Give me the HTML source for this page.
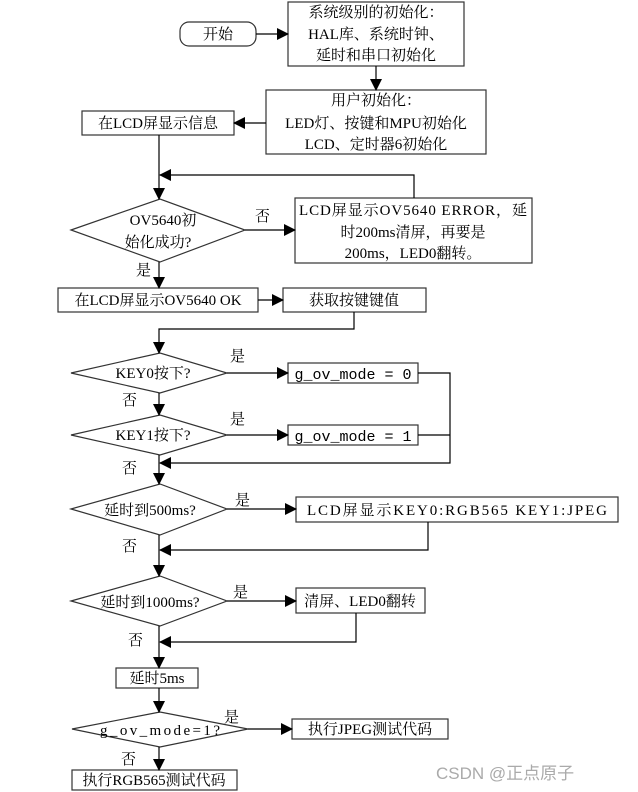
<!DOCTYPE html>
<html><head><meta charset="utf-8"><style>
html,body{margin:0;padding:0;background:#fff;}
svg{display:block;}
text{font-family:"Liberation Serif","Noto Serif CJK SC","Noto Sans CJK SC",serif;font-size:15px;fill:#000;}
.m{font-family:"Liberation Mono","Noto Sans CJK SC",monospace;}
</style></head><body>
<svg width="638" height="792" viewBox="0 0 638 792" xmlns="http://www.w3.org/2000/svg">
<defs><marker id="a" markerWidth="12" markerHeight="12" refX="11" refY="6" orient="auto" markerUnits="userSpaceOnUse"><path d="M0,0 L12,6 L0,12 z" fill="#000"/></marker></defs>
<g fill="#fff" stroke="#333" stroke-width="1.2">
<rect x="180" y="22" width="76" height="24" rx="9"/>
<rect x="288" y="2" width="176" height="64"/>
<rect x="266" y="90" width="220" height="64"/>
<rect x="82" y="111" width="152" height="24"/>
<polygon points="71,230 160,199 245,230 160,262"/>
<rect x="295" y="198" width="237" height="65"/>
<rect x="58" y="288" width="200" height="24"/>
<rect x="283" y="288" width="143" height="24"/>
<polygon points="71,373 160,353 227,373 160,393"/>
<rect x="288" y="363" width="130" height="20"/>
<polygon points="71,435 160,415 227,435 160,455"/>
<rect x="288" y="425" width="130" height="20"/>
<polygon points="71,509 160,484 227,509 160,535"/>
<rect x="296" y="497" width="322" height="25"/>
<polygon points="71,601 160,576 227,601 160,626"/>
<rect x="296" y="588" width="129" height="25"/>
<rect x="116" y="668" width="82" height="20"/>
<polygon points="72,729 160,712 248,729 160,747"/>
<rect x="292" y="719" width="156" height="20"/>
<rect x="72" y="770" width="165" height="20"/>
</g>
<g stroke="#000" stroke-width="1.2" fill="none">
<line x1="256" y1="34" x2="288" y2="34" marker-end="url(#a)"/>
<line x1="376" y1="66" x2="376" y2="90" marker-end="url(#a)"/>
<line x1="266" y1="123" x2="234" y2="123" marker-end="url(#a)"/>
<line x1="159" y1="135" x2="159" y2="199" marker-end="url(#a)"/>
<polyline points="414,198 414,175 160,175" marker-end="url(#a)"/>
<line x1="245" y1="230" x2="295" y2="230" marker-end="url(#a)"/>
<line x1="159" y1="262" x2="159" y2="288" marker-end="url(#a)"/>
<line x1="258" y1="300" x2="283" y2="300" marker-end="url(#a)"/>
<polyline points="354,312 354,329 159,329 159,353" marker-end="url(#a)"/>
<line x1="227" y1="373" x2="288" y2="373" marker-end="url(#a)"/>
<line x1="159" y1="393" x2="159" y2="415" marker-end="url(#a)"/>
<line x1="227" y1="435" x2="288" y2="435" marker-end="url(#a)"/>
<polyline points="418,373 450,373 450,463 160,463" marker-end="url(#a)"/>
<line x1="418" y1="435" x2="450" y2="435"/>
<line x1="159" y1="455" x2="159" y2="484" marker-end="url(#a)"/>
<line x1="227" y1="509" x2="296" y2="509" marker-end="url(#a)"/>
<polyline points="428,522 428,550 160,550" marker-end="url(#a)"/>
<line x1="159" y1="535" x2="159" y2="576" marker-end="url(#a)"/>
<line x1="227" y1="601" x2="296" y2="601" marker-end="url(#a)"/>
<polyline points="356,613 356,642 160,642" marker-end="url(#a)"/>
<line x1="159" y1="626" x2="159" y2="668" marker-end="url(#a)"/>
<line x1="159" y1="688" x2="159" y2="712" marker-end="url(#a)"/>
<line x1="248" y1="729" x2="292" y2="729" marker-end="url(#a)"/>
<line x1="159" y1="747" x2="159" y2="770" marker-end="url(#a)"/>
</g>
<g text-anchor="middle">
<text x="218" y="39">开始</text>
<text x="376" y="17">系统级别的初始化：</text>
<text x="376" y="39">HAL库、系统时钟、</text>
<text x="376" y="60">延时和串口初始化</text>
<text x="376" y="105">用户初始化：</text>
<text x="376" y="128">LED灯、按键和MPU初始化</text>
<text x="376" y="149">LCD、定时器6初始化</text>
<text x="158" y="128">在LCD屏显示信息</text>
<text x="163" y="225">OV5640初</text>
<text x="158" y="247">始化成功?</text>
<text x="413" y="215" textLength="228">LCD屏显示OV5640 ERROR，延</text>
<text x="413" y="237">时200ms清屏，再要是</text>
<text x="413" y="258">200ms，LED0翻转。</text>
<text x="158" y="305">在LCD屏显示OV5640 OK</text>
<text x="354" y="305">获取按键键值</text>
<text x="153" y="378">KEY0按下?</text>
<text x="353" y="379" class="m">g_ov_mode = 0</text>
<text x="153" y="440">KEY1按下?</text>
<text x="353" y="441" class="m">g_ov_mode = 1</text>
<text x="150" y="515">延时到500ms?</text>
<text x="457" y="515" textLength="300">LCD屏显示KEY0:RGB565  KEY1:JPEG</text>
<text x="150" y="607">延时到1000ms?</text>
<text x="360" y="606">清屏、LED0翻转</text>
<text x="157" y="683">延时5ms</text>
<text x="160" y="735" textLength="120">g_ov_mode=1?</text>
<text x="370" y="734">执行JPEG测试代码</text>
<text x="154" y="785">执行RGB565测试代码</text>
</g>
<g>
<text x="255" y="221">否</text>
<text x="136" y="275">是</text>
<text x="230" y="361">是</text>
<text x="122" y="405">否</text>
<text x="230" y="424">是</text>
<text x="122" y="473">否</text>
<text x="235" y="505">是</text>
<text x="122" y="551">否</text>
<text x="233" y="597">是</text>
<text x="128" y="645">否</text>
<text x="224" y="722">是</text>
<text x="121" y="764">否</text>
<text x="436" y="779" style="font-family:'Liberation Sans','Noto Sans CJK SC',sans-serif;font-size:17px;fill:#aaa;">CSDN @正点原子</text>
</g>
</svg>
</body></html>
